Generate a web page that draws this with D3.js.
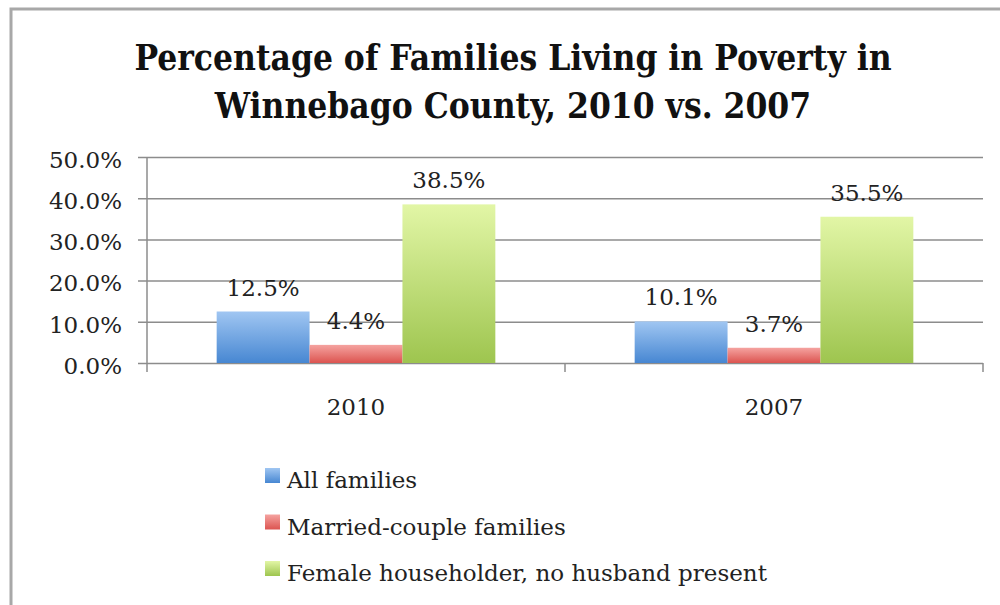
<!DOCTYPE html>
<meta charset="utf-8">
<style>
body { margin: 0; background: #fff; }
text { font-family: 'DejaVu Serif', serif; fill: #222; }
.title { font-weight: bold; font-stretch: condensed; fill: #111; }
</style>
<body>
<script src="https://d3js.org/d3.v7.min.js"></script>
<script>
var categories = ["2010", "2007"];
var series = ["All families", "Married-couple families", "Female householder, no husband present"];
var allFamilies = [12.5, 10.1];
var marriedCouple = [4.4, 3.7];
var femaleHouseholder = [38.5, 35.5];
var yTicks = [0, 10, 20, 30, 40, 50];

var colors = [
  {top: "#a0c6f2", bottom: "#4787d2"},
  {top: "#f5a3a0", bottom: "#dc5450"},
  {top: "#e2f6a6", bottom: "#9ec54f"}
];

var width = 1000, height = 605;
var margin = {left: 147, right: 17, top: 157, bottom: 242};
var fontSize = 23;

var svg = d3.select("body").append("svg")
    .attr("width", width)
    .attr("height", height);

// outer frame
svg.append("path")
    .attr("d", "M11,605 V9 H1000")
    .attr("fill", "none")
    .attr("stroke", "#a8a8a8")
    .attr("stroke-width", 3);

// title
var title = svg.append("text")
    .attr("class", "title")
    .attr("text-anchor", "middle")
    .attr("font-size", 35);
title.append("tspan").attr("x", 513).attr("y", 70).text("Percentage of Families Living in Poverty in");
title.append("tspan").attr("x", 513).attr("y", 118).text("Winnebago County, 2010 vs. 2007");

var x0 = d3.scaleBand()
    .domain(categories)
    .range([margin.left, width - margin.right])
    .paddingInner(1 / 3)
    .paddingOuter(1 / 6);

var x1 = d3.scaleBand()
    .domain(d3.range(series.length))
    .range([0, x0.bandwidth()]);

var y = d3.scaleLinear()
    .domain([0, 50])
    .range([height - margin.bottom, margin.top]);

var defs = svg.append("defs");
colors.forEach(function(c, i) {
  var g = defs.append("linearGradient")
      .attr("id", "grad" + i)
      .attr("x1", 0).attr("y1", 0).attr("x2", 0).attr("y2", 1);
  g.append("stop").attr("offset", "0%").attr("stop-color", c.top);
  g.append("stop").attr("offset", "100%").attr("stop-color", c.bottom);
});

// gridlines + y axis
var yAxis = d3.axisLeft(y)
    .tickValues(yTicks)
    .tickSize(-(width - margin.right - margin.left + 9))
    .tickPadding(16)
    .tickFormat(function(d) { return d3.format(".1f")(d) + "%"; });

var ya = svg.append("g")
    .attr("transform", "translate(" + (margin.left - 9) + ",0)")
    .call(yAxis);
ya.select(".domain").remove();
ya.selectAll(".tick line").attr("stroke", "#8c8c8c").attr("stroke-width", 1.5);
ya.selectAll(".tick text")
    .attr("x", -16)
    .attr("dy", "0.45em")
    .attr("font-size", fontSize)
    .attr("fill", "#222")
    .attr("font-family", "'DejaVu Serif', serif");

svg.append("line")
    .attr("x1", margin.left).attr("x2", margin.left)
    .attr("y1", margin.top).attr("y2", y(0) + 9)
    .attr("stroke", "#8c8c8c").attr("stroke-width", 1.5);

// category ticks on x axis
var bounds = [margin.left, (x0("2010") + x0.bandwidth() + x0("2007")) / 2, width - margin.right];
svg.selectAll(".xtick")
    .data(bounds.slice(1))
    .join("line")
    .attr("x1", d => d).attr("x2", d => d)
    .attr("y1", y(0)).attr("y2", y(0) + 9)
    .attr("stroke", "#8c8c8c").attr("stroke-width", 1.5);

var data = categories.map(function(c, i) {
  return {cat: c, values: [allFamilies[i], marriedCouple[i], femaleHouseholder[i]]};
});

var groups = svg.selectAll(".group")
    .data(data)
    .join("g")
    .attr("transform", d => "translate(" + x0(d.cat) + ",0)");

groups.selectAll("rect")
    .data(d => d.values)
    .join("rect")
    .attr("x", (d, i) => x1(i))
    .attr("y", d => y(d))
    .attr("width", x1.bandwidth())
    .attr("height", d => y(0) - y(d))
    .attr("fill", (d, i) => "url(#grad" + i + ")");

groups.selectAll(".label")
    .data(d => d.values)
    .join("text")
    .attr("class", "label")
    .attr("x", (d, i) => x1(i) + x1.bandwidth() / 2)
    .attr("y", d => y(d) - 16)
    .attr("text-anchor", "middle")
    .attr("font-size", fontSize)
    .text(d => d3.format(".1f")(d) + "%");

svg.selectAll(".cat")
    .data(categories)
    .join("text")
    .attr("class", "cat")
    .attr("x", d => x0(d) + x0.bandwidth() / 2)
    .attr("y", 415)
    .attr("text-anchor", "middle")
    .attr("font-size", fontSize)
    .text(d => d);

// legend
var legend = svg.selectAll(".legend")
    .data(series)
    .join("g")
    .attr("class", "legend")
    .attr("transform", (d, i) => "translate(265," + (480 + i * 46.5) + ")");

legend.append("rect")
    .attr("x", 0).attr("y", -12)
    .attr("width", 15).attr("height", 15)
    .attr("fill", (d, i) => "url(#grad" + i + ")");

legend.append("text")
    .attr("x", 22)
    .attr("y", 8)
    .attr("font-size", fontSize)
    .text(d => d);
</script>
